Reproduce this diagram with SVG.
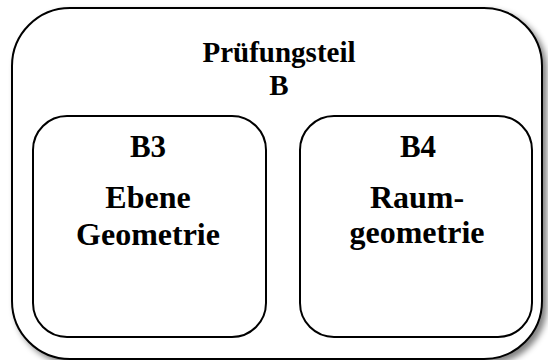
<svg xmlns="http://www.w3.org/2000/svg" width="548" height="360" viewBox="0 0 548 360">
<style>
.box{fill:#fff;stroke:#000;stroke-width:2}
.t{font-family:"Liberation Serif","Times New Roman",serif;font-weight:bold;font-size:29px;fill:#000;text-anchor:middle}
.h{font-size:31px}
.b{font-size:32px}
</style>
<defs>
<filter id="sh" x="-5%" y="-5%" width="115%" height="115%">
<feGaussianBlur in="SourceAlpha" stdDeviation="3"/>
<feOffset dx="4" dy="4" result="b"/>
<feComponentTransfer><feFuncA type="linear" slope="0.5"/></feComponentTransfer>
<feMerge><feMergeNode/><feMergeNode in="SourceGraphic"/></feMerge>
</filter>
</defs>
<rect width="548" height="360" fill="#fff"/>
<g id="pruefungsteil-b">
<rect class="box" x="12" y="8" width="530" height="351" rx="58" ry="58" filter="url(#sh)"/>
<text class="t" x="279" y="62">Prüfungsteil</text>
<text class="t" x="279" y="95">B</text>
</g>
<g id="b3">
<rect class="box" x="33" y="116" width="233" height="221" rx="34" ry="34"/>
<text class="t h" x="148" y="157">B3</text>
<text class="t b" x="148" y="208">Ebene</text>
<text class="t b" x="148" y="245">Geometrie</text>
</g>
<g id="b4">
<rect class="box" x="300" y="116" width="232" height="221" rx="34" ry="34"/>
<text class="t h" x="418" y="157">B4</text>
<text class="t b" x="417" y="208">Raum-</text>
<text class="t b" x="417" y="243">geometrie</text>
</g>
<g id="connectors"/>
</svg>
